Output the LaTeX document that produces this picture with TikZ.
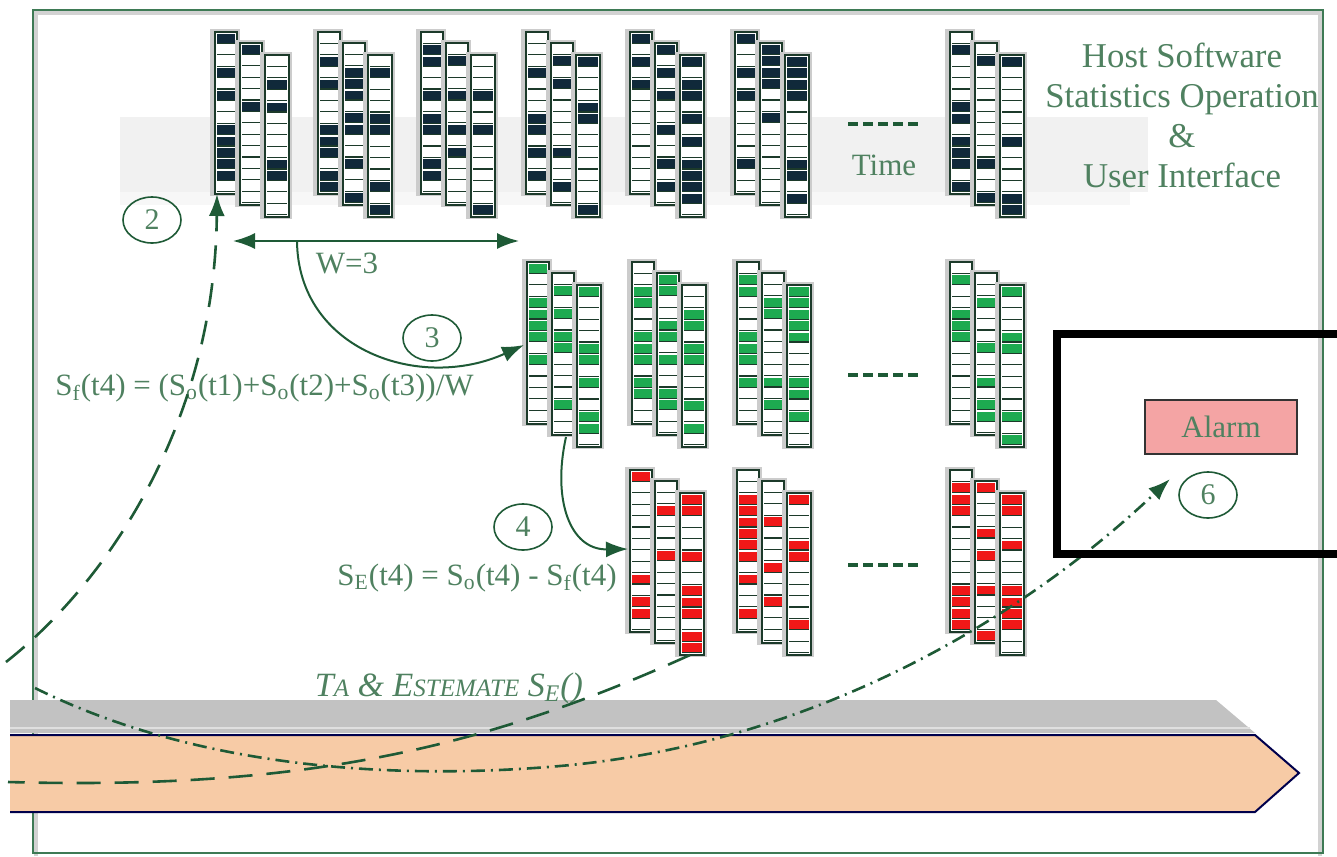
\documentclass[tikz,border=0pt]{standalone}
\usepackage{fontspec}
\setmainfont{Liberation Serif}
\usetikzlibrary{arrows.meta,shapes.geometric}

\definecolor{framegreen}{HTML}{3E7A55}
\definecolor{textgreen}{HTML}{4F8160}
\definecolor{arrowgreen}{HTML}{1E5A36}
\definecolor{stripedge}{HTML}{1C3A2A}
\definecolor{barnavy}{HTML}{10293A}
\definecolor{bargreen}{HTML}{1DAA50}
\definecolor{barred}{HTML}{F01818}
\definecolor{bandpeach}{HTML}{F7CBA6}
\definecolor{bandgray}{HTML}{C2C2C2}
\definecolor{alarmpink}{HTML}{F4A4A4}

% one strip: x, y (top left), width, bar colour
\newcommand\datastrip[4]{%
  \fill[gray!40] (#1-5,#2-3) rectangle ++(#3+8,167);
  \draw[stripedge,line width=1.3pt,fill=white] (#1,#2) rectangle ++(#3,162);
  \foreach \k in {0,...,13}{%
    \pgfmathrandominteger{\cellkind}{1}{5}%
    \ifnum\cellkind<3 \fill[#4] (#1+2,#2+2+\k*11.4) rectangle ++(#3-4,9.5);\fi
    \draw[stripedge,line width=0.6pt] (#1+2,#2+11.4+\k*11.4) -- ++(#3-4,0);
  }%
}
% three strips of one time step: x, y, bar colour, seed
\newcommand\stripgroup[4]{%
  \pgfmathsetseed{#4}%
  \datastrip{#1}{#2}{22}{#3}%
  \datastrip{#1+25}{#2+11}{22}{#3}%
  \datastrip{#1+50}{#2+23}{24}{#3}%
}

\begin{document}
\begin{tikzpicture}[x=0.5pt,y=-0.5pt,
  >={Latex[length=11pt,width=8pt]},
  stepnum/.style={draw=arrowgreen,line width=0.8pt,ellipse,minimum width=29pt,
    minimum height=23pt,inner sep=0pt,text=textgreen,font=\fontsize{15}{15}\selectfont},
  labeltext/.style={text=textgreen,inner sep=0pt,font=\fontsize{15.5}{18}\selectfont},
  flow/.style={arrowgreen,line width=1pt},
  longdash/.style={arrowgreen,line width=1.3pt,dash pattern=on 12pt off 7pt},
  dotdash/.style={arrowgreen,line width=1.3pt,dash pattern=on 7pt off 3pt on 1pt off 3pt},
  gapline/.style={arrowgreen,line width=2pt,dash pattern=on 5pt off 2.5pt},
  alarmbox/.style={draw=black!80,line width=1pt,fill=alarmpink,minimum width=76pt,
    minimum height=27pt,text=textgreen,font=\fontsize{15.5}{18}\selectfont}
]
\useasboundingbox (0,0) rectangle (1337,856);

% frame and shaded row
\draw[gray!35,line width=2pt] (36,856) -- (36,13) -- (1320,13) -- (1320,856);
\draw[framegreen,line width=1.3pt] (33,853) rectangle (1323,10);
\fill[gray!11] (120,117) rectangle (1148,192);
\fill[gray!6] (120,192) rectangle (1130,205);

% observed statistics
\foreach \gx/\sd in {215/11,318/12,421/13,526/14,630/15,735/16,950/17}
  \stripgroup{\gx}{32}{barnavy}{\sd};
% filtered statistics
\foreach \gx/\sd in {527/21,632/22,737/23,950/24}
  \stripgroup{\gx}{262}{bargreen}{\sd};
% estimated errors
\foreach \gx/\sd in {630/31,737/32,950/33}
  \stripgroup{\gx}{470}{barred}{\sd};

\draw[gapline] (848,124) -- (920,124);
\draw[gapline] (848,375) -- (920,375);
\draw[gapline] (848,565) -- (920,565);
\node[labeltext] (time) at (884,165) {Time};

\node[labeltext,align=center,font=\fontsize{17.4}{20}\selectfont] (host) at (1182,115)
  {Host Software\\Statistics Operation\\\&\\User Interface};

% window
\coordinate (wl) at (233,241);
\coordinate (wr) at (519,241);
\draw[flow,<->] (wl) -- (wr);
\node[labeltext] (wlabel) at (347,263) {W=3};
\node[stepnum] (s2) at (152,220) {2};

\coordinate (wmid) at (297,241);
\coordinate (green1in) at (524,345);
\draw[flow,->] (wmid) .. controls (298,350) and (420,392) .. (green1in);
\node[stepnum] (s3) at (432,338) {3};
\node[labeltext,anchor=west] (avg) at (55,388)
  {S\textsubscript{f}(t4) = (S\textsubscript{o}(t1)+S\textsubscript{o}(t2)+S\textsubscript{o}(t3))/W};

\coordinate (green1out) at (566,437);
\coordinate (red1in) at (628,549);
\draw[flow,->] (green1out) .. controls (552,500) and (570,550) .. (red1in);
\node[stepnum] (s4) at (523,527) {4};
\node[labeltext,anchor=east] (err) at (617,578)
  {S\textsubscript{E}(t4) = S\textsubscript{o}(t4) - S\textsubscript{f}(t4)};

% data band
\fill[bandgray] (10,700) -- (1216,700) -- (1255,733) -- (10,733) -- cycle;
\draw[white!75!gray,line width=1pt] (10,728) -- (1250,728);
\fill[bandpeach] (10,735) -- (1255,735) -- (1299,773) -- (1255,812) -- (10,812) -- cycle;
\draw[black!70!blue,line width=1pt] (10,735) -- (1255,735) -- (1299,773) -- (1255,812) -- (10,812);
\node[labeltext,font=\fontsize{17}{18}\selectfont\itshape] (ta) at (449,688)
  {T{\fontsize{12.5}{14}\selectfont A} \& E{\fontsize{12.5}{14}\selectfont STEMATE} S\textsubscript{E}()};

% alarm
\node[alarmbox] (alarm) at (1221,427) {Alarm};
\node[stepnum] (s6) at (1208,495) {6};

% flows through the band
\coordinate (edgeA) at (6,662);
\coordinate (top1in) at (217,194);
\draw[longdash,->] (edgeA) .. controls (110,580) and (215,420) .. (top1in);
\coordinate (red1out) at (690,655);
\coordinate (edgeB) at (8,782);
\draw[longdash] (red1out) .. controls (480,750) and (300,790) .. (edgeB);
\coordinate (frameC) at (35,688);
\coordinate (alarmin) at (1170,479);
\draw[dotdash,->] (frameC) .. controls (200,770) and (400,780) .. (560,766)
  .. controls (800,745) and (1010,630) .. (alarmin);

\draw[line width=4pt] (1345,334) -- (1057,334) -- (1057,554) -- (1345,554);
\end{tikzpicture}
\end{document}
